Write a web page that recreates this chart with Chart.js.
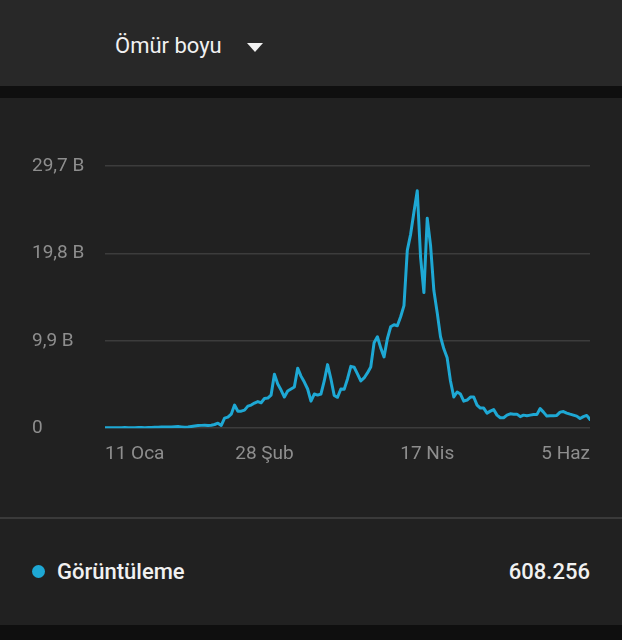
<!DOCTYPE html>
<html>
<head>
<meta charset="utf-8">
<script src="https://cdn.jsdelivr.net/npm/chart.js@4"></script>
<style>
	html, body { margin: 0; padding: 0; background: #0f0f0f; }
	body { width: 622px; height: 640px; position: relative; overflow: hidden; font-family: Roboto, 'Noto Sans', sans-serif; }
	.head { position: absolute; left: 0; top: 0; width: 622px; height: 86px; background: #282828; }
	.head .title { position: absolute; left: 115px; top: 33px; font-size: 22px; color: #f1f1f1; line-height: 26px; }
	.head .caret { position: absolute; left: 247px; top: 43px; width: 0; height: 0; border-left: 8px solid transparent; border-right: 8px solid transparent; border-top: 9px solid #f1f1f1; }
	.chart { position: absolute; left: 0; top: 98px; width: 622px; height: 419px; background: #212121; }
	.sep { position: absolute; left: 0; top: 517px; width: 622px; height: 2px; background: #3a3a3a; }
	.foot { position: absolute; left: 0; top: 519px; width: 622px; height: 106px; background: #212121; }
	.foot .dot { position: absolute; left: 32px; top: 46px; width: 13px; height: 13px; border-radius: 50%; background: #1ea8d4; }
	.foot .name { position: absolute; left: 57px; top: 40px; font-size: 22px; font-weight: 500; color: #f1f1f1; line-height: 26px; }
	.foot .total { position: absolute; right: 32px; top: 40px; font-size: 22px; font-weight: 500; color: #f1f1f1; line-height: 26px; }
</style>
</head>
<body>
<div class="head"><span class="title">Ömür boyu</span><span class="caret"></span></div>
<div class="chart"><canvas id="myChart"></canvas></div>
<div class="sep"></div>
<div class="foot"><span class="dot"></span><span class="name">Görüntüleme</span><span class="total">608.256</span></div>
<script>
// gunluk goruntulemeler, 11 Oca -> 5 Haz
let views = [
	40, 50, 45, 60, 55, 50, 70, 60, 55, 65, 80, 70, 60, 75,
	90, 120, 110, 130, 150, 140, 130, 160, 180, 150, 120, 140,
	200, 260, 300, 320, 330, 310, 340,
	420, 570, 310, 1140, 1250, 1590, 2620, 1930, 1930, 2050, 2500, 2620, 2850, 3020, 2880, 3360, 3410, 3750,
	6100, 5000, 4320, 3530, 4210, 4440, 4670, 6800, 5900, 5230, 4440, 3070, 3870, 3750, 3870, 5350, 7200, 5600, 3700, 3500,
	4440, 4400, 5580, 7000, 6900, 6150, 5350, 5690, 6260, 6940,
	9670, 10360, 9100, 8080, 10130, 11490, 11720, 11610, 12630, 13880, 20140, 21960, 24500, 26900, 19350, 15360,
	23780, 20710, 15590, 13090, 10360, 8990, 7970, 5350,
	3530, 4100, 3870, 3070, 3190, 3530, 3530, 2620, 2280, 2280, 1710, 1930, 2110, 1480, 1190, 1190, 1480, 1630,
	1590, 1590, 1310, 1480, 1420, 1480, 1540, 1540, 2220, 1820, 1370, 1420, 1420, 1450, 1820, 1880, 1710, 1590,
	1480, 1370, 1100, 1310, 1450, 990,
]
let xTickDays = [0, 48, 97, 146]
let xTickLabels = ['11 Oca', '28 Şub', '17 Nis', '5 Haz']
let yTicks = [0, 9900, 19800, 29700]
let yTickLabels = ['0', '9,9 B', '19,8 B', '29,7 B']

Chart.defaults.font.family = 'Roboto'

let points = views.map((v, i) => ({ x: i, y: v }))

var ctx = document.getElementById('myChart').getContext('2d')
var myChart = new Chart(ctx, {
	type: 'line',
	data: {
		datasets: [
			{
				label: 'Görüntüleme',
				data: points,
				borderColor: '#1ea8d4',
				borderWidth: 3,
				borderJoinStyle: 'round',
				borderCapStyle: 'round',
				pointRadius: 0,
				tension: 0,
				fill: false,
			},
		],
	},
	options: {
		responsive: true,
		maintainAspectRatio: false,
		animation: false,
		layout: { padding: { left: 32, right: 32, top: 68, bottom: 44 } },
		plugins: { legend: { display: false }, tooltip: { enabled: false } },
		scales: {
			x: {
				type: 'linear',
				min: 0,
				max: views.length - 1,
				border: { display: false },
				grid: { display: false },
				afterBuildTicks: (axis) => {
					axis.ticks = xTickDays.map((d) => ({ value: d }))
				},
				ticks: {
					align: 'inner',
					maxRotation: 0,
					autoSkip: false,
					padding: 7,
					color: '#8e8e8e',
					font: { size: 19 },
					callback: (val) => xTickLabels[xTickDays.indexOf(val)],
				},
			},
			y: {
				min: 0,
				max: 29700,
				border: { display: false },
				grid: { color: '#3c3c3c', lineWidth: 1.5, drawTicks: false },
				afterBuildTicks: (axis) => {
					axis.ticks = yTicks.map((v) => ({ value: v }))
				},
				afterFit: (axis) => {
					axis.width = 73
				},
				ticks: {
					crossAlign: 'far',
					color: '#8e8e8e',
					font: { size: 19 },
					callback: (val) => yTickLabels[yTicks.indexOf(val)],
				},
			},
		},
	},
})
</script>
</body>
</html>
